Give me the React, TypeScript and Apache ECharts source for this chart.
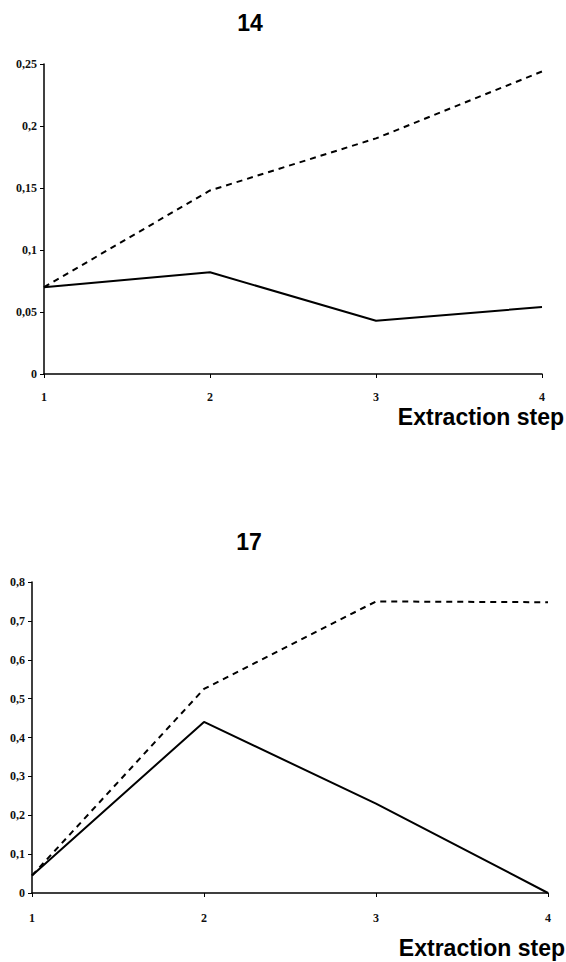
import React, { useEffect, useRef } from "react";
import * as echarts from "echarts";

const steps = ["1", "2", "3", "4"];
const top14Solid = [0.07, 0.082, 0.043, 0.054];
const top14Dashed = [0.07, 0.148, 0.19, 0.244];
const bottom17Solid = [0.045, 0.44, 0.23, 0.0];
const bottom17Dashed = [0.045, 0.525, 0.75, 0.748];
const titles = ["14", "17"];
const xName = "Extraction step";

const fmt = (v: number) => String(parseFloat(v.toFixed(2))).replace(".", ",");

export default function App() {
  const ref = useRef<HTMLDivElement>(null);
  useEffect(() => {
    if (!ref.current) return;
    const chart = echarts.init(ref.current, null, { renderer: "svg" });
    const axisLabelY = {
      color: "#111",
      fontFamily: "Liberation Serif",
      fontSize: 12,
      fontWeight: "bold" as const,
      margin: 7,
      formatter: fmt,
    };
    const axisLabelX = {
      color: "#111",
      fontFamily: "Liberation Serif",
      fontSize: 12,
      fontWeight: "bold" as const,
    };
    const axisLine = { show: true, lineStyle: { color: "#000", width: 1.5 } };
    const axisTick = { show: true, length: 4, lineStyle: { color: "#000", width: 1 } };
    const solid = { color: "#000", width: 2, type: "solid" as const };
    const dashed = { color: "#000", width: 2, type: [6, 5] as any };
    chart.setOption({
      animation: false,
      backgroundColor: "#fff",
      grid: [
        { left: 44, top: 64, width: 498, height: 310 },
        { left: 32, top: 582, width: 516, height: 311 },
      ],
      xAxis: [
        {
          gridIndex: 0,
          type: "category",
          data: steps,
          boundaryGap: false,
          axisLine,
          axisTick: { ...axisTick, alignWithLabel: true },
          axisLabel: { ...axisLabelX, margin: 17 },
          splitLine: { show: false },
        },
        {
          gridIndex: 1,
          type: "category",
          data: steps,
          boundaryGap: false,
          axisLine,
          axisTick: { ...axisTick, alignWithLabel: true },
          axisLabel: { ...axisLabelX, margin: 19 },
          splitLine: { show: false },
        },
      ],
      yAxis: [
        {
          gridIndex: 0,
          type: "value",
          min: 0,
          max: 0.25,
          interval: 0.05,
          axisLine,
          axisTick,
          axisLabel: axisLabelY,
          splitLine: { show: false },
        },
        {
          gridIndex: 1,
          type: "value",
          min: 0,
          max: 0.8,
          interval: 0.1,
          axisLine,
          axisTick,
          axisLabel: axisLabelY,
          splitLine: { show: false },
        },
      ],
      series: [
        { type: "line", xAxisIndex: 0, yAxisIndex: 0, data: top14Dashed, showSymbol: false, symbol: "none", lineStyle: dashed, z: 3 },
        { type: "line", xAxisIndex: 0, yAxisIndex: 0, data: top14Solid, showSymbol: false, symbol: "none", lineStyle: solid, z: 4 },
        { type: "line", xAxisIndex: 1, yAxisIndex: 1, data: bottom17Dashed, showSymbol: false, symbol: "none", lineStyle: dashed, z: 3 },
        { type: "line", xAxisIndex: 1, yAxisIndex: 1, data: bottom17Solid, showSymbol: false, symbol: "none", lineStyle: solid, z: 4 },
      ],
      graphic: [
        {
          type: "text",
          x: 250,
          y: 23,
          style: { text: titles[0], fill: "#000", font: "bold 23px 'Liberation Sans'", textAlign: "center", textVerticalAlign: "middle" },
        },
        {
          type: "text",
          x: 249,
          y: 542,
          style: { text: titles[1], fill: "#000", font: "bold 23px 'Liberation Sans'", textAlign: "center", textVerticalAlign: "middle" },
        },
        {
          type: "text",
          x: 564,
          y: 417,
          style: { text: xName, fill: "#000", font: "bold 23px 'Liberation Sans'", textAlign: "right", textVerticalAlign: "middle" },
        },
        {
          type: "text",
          x: 565,
          y: 948,
          style: { text: xName, fill: "#000", font: "bold 23px 'Liberation Sans'", textAlign: "right", textVerticalAlign: "middle" },
        },
      ],
    });
    return () => chart.dispose();
  }, []);
  return (
    <div
      ref={ref}
      style={{ position: "fixed", left: 0, top: 0, width: 566, height: 962, background: "#fff" }}
    />
  );
}
